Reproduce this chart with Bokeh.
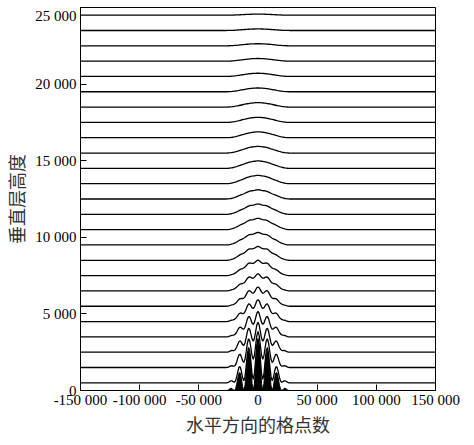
from bokeh.plotting import figure
from bokeh.models import Range1d, FixedTicker, Spacer
from bokeh.layouts import column
from bokeh.embed import file_html
from bokeh.resources import INLINE

# ---------------- data ----------------
# horizontal grid of the terrain profile (m)
grid_x = [-150000] + list(range(-27000, 28000, 1000)) + [150000]

# terrain height h(x) (m)
terrain_h = [0,
             0, 6, 38, 98, 148, 134, 56, 0, 96, 407, 837, 1159, 1146, 766, 252, 0,
             306, 1135, 2081, 2595, 2339, 1435, 437, 0, 462, 1603, 2765,
             3250,
             2765, 1603, 462, 0, 437, 1435, 2339, 2595, 2081, 1135, 306, 0,
             252, 766, 1146, 1159, 837, 407, 96, 0, 56, 134, 148, 98, 38, 6, 0,
             0]

# large-scale (smooth) part of the terrain (m)
terrain_large = [0,
                 0, 6, 22, 49, 87, 134, 190, 255, 327, 407, 491, 580, 672, 766, 860, 954,
                 1045, 1135, 1219, 1298, 1370, 1435, 1492, 1539, 1576, 1603, 1620,
                 1625,
                 1620, 1603, 1576, 1539, 1492, 1435, 1370, 1298, 1219, 1135, 1045, 954,
                 860, 766, 672, 580, 491, 407, 327, 255, 190, 134, 87, 49, 22, 6, 0,
                 0]

# vertical levels (m) and decay of large / small scale terrain with height
levels = [500, 1500, 2500, 3500, 4500, 5500, 6500, 7500, 8500, 9500,
          10500, 11500, 12500, 13500, 14500, 15500, 16500, 17500, 18500, 19500,
          20500, 21500, 22500, 23500, 24500]
decay_large = [0.965, 0.898, 0.834, 0.775, 0.718, 0.665, 0.615, 0.568, 0.523, 0.481,
               0.441, 0.402, 0.366, 0.331, 0.297, 0.265, 0.234, 0.204, 0.178, 0.152,
               0.128, 0.105, 0.083, 0.062, 0.042]
decay_small = [0.819, 0.549, 0.368, 0.247, 0.165, 0.111, 0.074, 0.050, 0.033, 0.022,
               0.015, 0.010, 0.007, 0.0045, 0.003, 0.002, 0.0014, 0.0009, 0.0006, 0.0004,
               0.0003, 0.0002, 0.0001, 0.0001, 0.0]

x_ticks = [-150000, -100000, -50000, 0, 50000, 100000, 150000]
x_tick_labels = ["-150 000", "-100 000", "-50 000", "0", "50 000", "100 000", "150 000"]
y_ticks = [0, 5000, 10000, 15000, 20000, 25000]
y_tick_labels = ["0", "5 000", "10 000", "15 000", "20 000", "25 000"]

x_title = "水平方向的格点数"
y_title = "垂直层高度"

# ---------------- figure ----------------
p = figure(frame_width=355, frame_height=383,
           x_range=Range1d(-150000, 150000), y_range=Range1d(0, 25000),
           output_backend="svg", toolbar_location=None,
           min_border_left=74, min_border_right=29,
           min_border_top=0, min_border_bottom=39)
p.background_fill_color = "white"
p.border_fill_color = "white"
p.outline_line_color = "black"
p.outline_line_width = 1
p.xgrid.visible = False
p.ygrid.visible = False

# coordinate lines
xs, ys = [], []
for lev, bl, bs in zip(levels, decay_large, decay_small):
    z = [lev + bl * hl + bs * (h - hl) for h, hl in zip(terrain_h, terrain_large)]
    xs.append(grid_x)
    ys.append(z)
p.multi_line(xs, ys, line_color="black", line_width=1.3)

# terrain
p.varea(x=grid_x, y1=[0] * len(grid_x), y2=terrain_h, fill_color="black")
p.line(grid_x, terrain_h, line_color="black", line_width=1)

for ax, ticks, labels in ((p.xaxis, x_ticks, x_tick_labels), (p.yaxis, y_ticks, y_tick_labels)):
    ax.ticker = FixedTicker(ticks=ticks)
    ax.major_label_overrides = {t: l for t, l in zip(ticks, labels)}
    ax.minor_tick_line_color = None
    ax.major_tick_in = 6
    ax.major_tick_out = 0
    ax.axis_line_color = "black"
    ax.major_tick_line_color = "black"
    ax.major_label_text_font = "Liberation Serif"
    ax.major_label_text_font_size = "15px"
    ax.major_label_text_color = "black"
    ax.axis_label_text_font = "Noto Sans CJK SC"
    ax.axis_label_text_font_style = "normal"
    ax.axis_label_text_color = "#333333"

p.xaxis.axis_label = x_title
p.yaxis.axis_label = y_title
p.xaxis.axis_label_text_font_size = "18px"
p.yaxis.axis_label_text_font_size = "18px"
p.xaxis.major_label_text_line_height = 0.9
p.xaxis.axis_label_text_line_height = 0.9
p.xaxis.major_label_standoff = 1
p.yaxis.major_label_standoff = 4
p.xaxis.axis_label_standoff = 0
p.yaxis.axis_label_standoff = 3

layout = column(Spacer(height=7), p, spacing=0)
open("out.html", "w").write(file_html(layout, INLINE))
